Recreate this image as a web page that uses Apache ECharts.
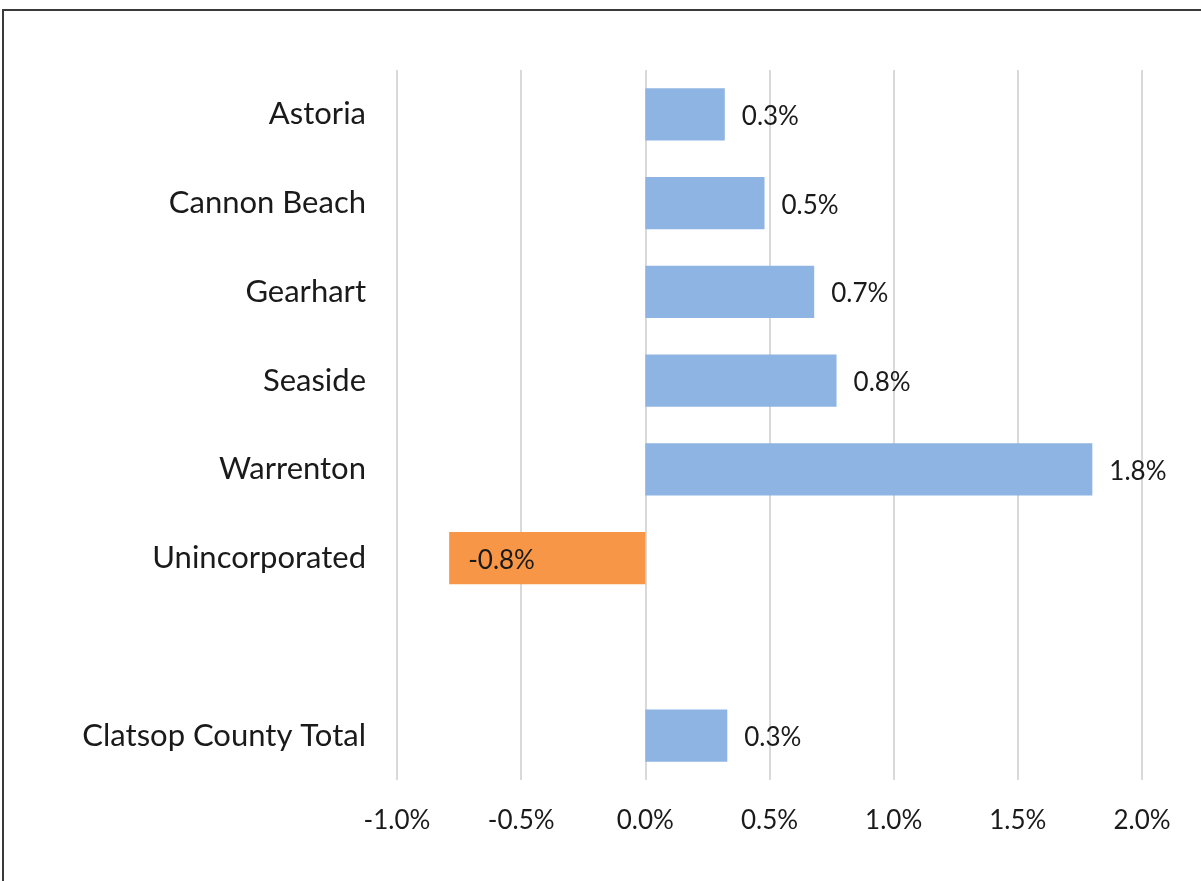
<!DOCTYPE html>
<html>
<head>
<meta charset="utf-8">
<script src="https://cdn.jsdelivr.net/npm/echarts@6/dist/echarts.min.js"></script>
<style>
  html, body { margin: 0; padding: 0; background: #ffffff; }
  #chart { width: 1201px; height: 881px; }
</style>
</head>
<body>
<div id="chart"></div>
<script>
// Average annual growth rate by jurisdiction (percent)
const categories = ['Astoria', 'Cannon Beach', 'Gearhart', 'Seaside', 'Warrenton', 'Unincorporated', '', 'Clatsop County Total'];
const growthRates = [0.32, 0.48, 0.68, 0.77, 1.80, -0.79, null, 0.33];
const tickValues = [-1.0, -0.5, 0.0, 0.5, 1.0, 1.5, 2.0];

const FONT = 'Lato';
const BLUE = '#8eb4e3';
const ORANGE = '#f79646';
const TEXT = '#1a1a1a';

const barData = growthRates.map(v => {
  if (v === null) return null;
  const neg = v < 0;
  return {
    value: v,
    itemStyle: { color: neg ? ORANGE : BLUE },
    label: neg
      ? { position: 'insideLeft', distance: 19 }
      : { position: 'right', distance: 17 }
  };
});

const chart = echarts.init(document.getElementById('chart'), null, { renderer: 'canvas' });
chart.setOption({
  backgroundColor: '#ffffff',
  animation: false,
  grid: { left: 397, right: 59, top: 70, bottom: 101, containLabel: false },
  xAxis: {
    type: 'value',
    min: tickValues[0],
    max: tickValues[tickValues.length - 1],
    interval: 0.5,
    axisLine: { show: false },
    axisTick: { show: false },
    splitLine: { show: true, lineStyle: { color: '#d9d9d9', width: 2 } },
    axisLabel: {
      margin: 28,
      fontFamily: FONT,
      fontSize: 26,
      color: TEXT,
      formatter: v => v.toFixed(1) + '%'
    }
  },
  yAxis: {
    type: 'category',
    data: categories,
    inverse: true,
    axisLine: { show: false },
    axisTick: { show: false },
    splitLine: { show: false },
    axisLabel: {
      margin: 31,
      fontFamily: FONT,
      fontSize: 31,
      color: TEXT,
      padding: [4, 0, 0, 0]
    }
  },
  series: [{
    type: 'bar',
    data: barData,
    barCategoryGap: '41%',
    label: {
      show: true,
      fontFamily: FONT,
      fontSize: 26,
      color: TEXT,
      offset: [0, 2],
      formatter: p => p.value.toFixed(1) + '%'
    }
  }],
  graphic: [{
    type: 'rect',
    shape: { x: 3, y: 10, width: 1300, height: 1000 },
    style: { fill: 'none', stroke: '#3a3a3a', lineWidth: 2 },
    silent: true
  }]
});
</script>
</body>
</html>
